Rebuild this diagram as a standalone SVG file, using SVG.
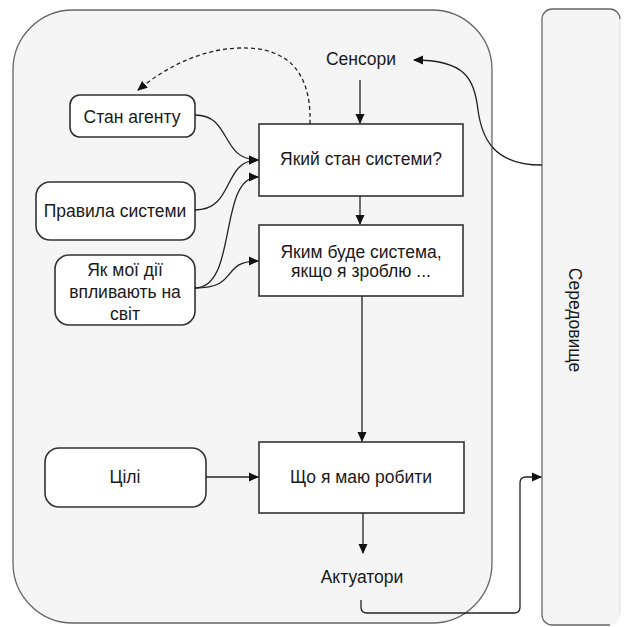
<svg xmlns="http://www.w3.org/2000/svg" width="627" height="627" viewBox="0 0 627 627">
<defs>
<marker id="arr" viewBox="0 0 10 10" refX="9" refY="5" markerWidth="10" markerHeight="10" markerUnits="userSpaceOnUse" orient="auto">
<path d="M0,0.5 L10,5 L0,9.5 Z" fill="#111"/>
</marker>
<style>
.t{font-family:"Liberation Sans",Arial,sans-serif;font-size:17.5px;fill:#1a1a1a;text-anchor:middle}
.box{fill:#fff;stroke:#333;stroke-width:1.6}
.c{fill:none;stroke:#222;stroke-width:1.3}
</style>
</defs>
<rect width="627" height="627" fill="#fff"/>
<g id="agent">
<rect x="13" y="10" width="479" height="613" rx="60" fill="#f5f5f5" stroke="#666" stroke-width="1.3"/>
</g>
<g id="env">
<rect x="542" y="9" width="78" height="616" rx="10" fill="#f5f5f5" stroke="none"/>
<path d="M620,19 A10,10 0 0 0 610,9 L552,9 A10,10 0 0 0 542,19 L542,615 A10,10 0 0 0 552,625 L610,625" fill="none" stroke="#666" stroke-width="1.3"/>
<path d="M620,19 L620,615" fill="none" stroke="#ddd" stroke-width="1"/>
<text class="t" transform="translate(575,320) rotate(90)" y="6">Середовище</text>
</g>
<g id="sensors"><text class="t" x="361" y="65">Сенсори</text></g>
<g id="actuators"><text class="t" x="362" y="583">Актуатори</text></g>
<g id="state-agent">
<rect class="box" x="70" y="95" width="125" height="42" rx="10"/>
<text class="t" x="132" y="123">Стан агенту</text>
</g>
<g id="rules">
<rect class="box" x="36" y="182" width="159" height="58" rx="14"/>
<text class="t" x="115" y="217">Правила системи</text>
</g>
<g id="actions">
<rect class="box" x="55" y="255" width="140" height="70" rx="14"/>
<text class="t" x="125" y="276">Як мої дії</text>
<text class="t" x="125" y="298">впливають на</text>
<text class="t" x="125" y="320">світ</text>
</g>
<g id="what-state">
<rect class="box" x="259" y="124" width="204" height="72"/>
<text class="t" x="361" y="165">Який стан системи?</text>
</g>
<g id="what-if">
<rect class="box" x="259" y="225" width="204" height="71"/>
<text class="t" x="361" y="258">Яким буде система,</text>
<text class="t" x="361" y="277">якщо я зроблю ...</text>
</g>
<g id="goals">
<rect class="box" x="45" y="448" width="161" height="59" rx="14"/>
<text class="t" x="125" y="483">Цілі</text>
</g>
<g id="todo">
<rect class="box" x="259" y="442" width="205" height="71"/>
<text class="t" x="361" y="483">Що я маю робити</text>
</g>
<g id="connectors">
<path class="c" marker-end="url(#arr)" d="M360,80 L360,123"/>
<path class="c" marker-end="url(#arr)" d="M360,196 L360,224"/>
<path class="c" marker-end="url(#arr)" d="M362,296 L362,441"/>
<path class="c" marker-end="url(#arr)" d="M363,513 L363,553"/>
<path class="c" marker-end="url(#arr)" d="M206,477 L258,477"/>
<path class="c" marker-end="url(#arr)" d="M195,115 C232,115 220,160 258,160"/>
<path class="c" marker-end="url(#arr)" d="M195,210 C235,210 222,160 258,160"/>
<path class="c" marker-end="url(#arr)" d="M195,288 C238,288 218,177 258,177"/>
<path class="c" marker-end="url(#arr)" d="M195,288 C240,288 220,261 258,261"/>
<path class="c" stroke-dasharray="4,3" marker-end="url(#arr)" d="M310,124 C312,60 275,47 240,48 C200,49 165,68 138,90"/>
<path class="c" marker-end="url(#arr)" d="M542,165 C495,165 482,140 478,110 C474,78 465,60 414,60"/>
<path class="c" marker-end="url(#arr)" d="M361,600 L361,607 Q361,613 367,613 L514,613 Q520,613 520,607 L520,483 Q520,477 526,477 L541,477"/>
</g>
</svg>
